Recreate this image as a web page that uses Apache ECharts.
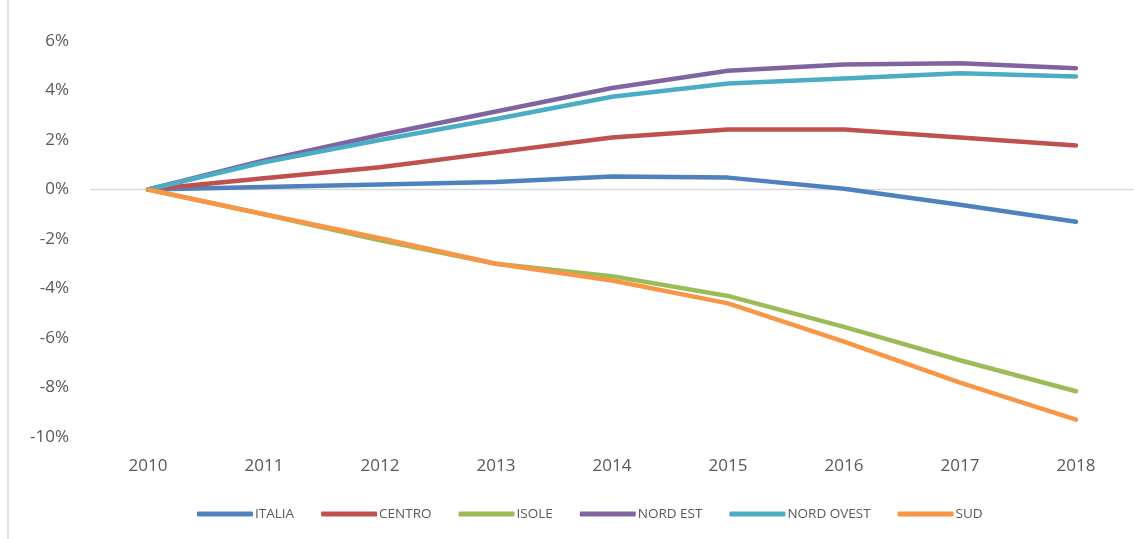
<!DOCTYPE html>
<html><head><meta charset="utf-8">
<script src="https://cdn.jsdelivr.net/npm/echarts@6/dist/echarts.min.js"></script>
<style>html,body{margin:0;padding:0;background:#fff}#c{width:1148px;height:539px}</style>
</head><body><div id="c"></div>
<script>
const years = ['2010','2011','2012','2013','2014','2015','2016','2017','2018'];
const italia = [0, 0.1, 0.2, 0.3, 0.53, 0.48, 0.03, -0.62, -1.3];
const centro = [0, 0.45, 0.9, 1.5, 2.1, 2.42, 2.42, 2.1, 1.78];
const isole = [0, -1.0, -2.05, -3.0, -3.5, -4.3, -5.55, -6.9, -8.15];
const nordEst = [0, 1.17, 2.2, 3.15, 4.1, 4.8, 5.05, 5.1, 4.9];
const nordOvest = [0, 1.1, 2.0, 2.85, 3.75, 4.28, 4.48, 4.7, 4.57];
const sud = [0, -1.0, -1.97, -3.0, -3.68, -4.6, -6.15, -7.8, -9.3];
const seriesNames = ['ITALIA','CENTRO','ISOLE','NORD EST','NORD OVEST','SUD'];
const seriesData = [italia, centro, isole, nordEst, nordOvest, sud];
const colors = ['#4F81BD','#C0504D','#9BBB59','#8064A2','#4BACC6','#F79646'];

const chart = echarts.init(document.getElementById('c'), null, {renderer:'canvas'});
const series = seriesNames.map((n,i)=>({
  name:n, type:'line', data:seriesData[i], symbol:'none', smooth:false,
  lineStyle:{width:4.5, color:colors[i], cap:'round', join:'round'},
  itemStyle:{color:colors[i]}, z:10+i
}));
series.unshift({
  name:'zero', type:'line', data:[], silent:true,
  markLine:{symbol:'none', silent:true, label:{show:false},
    lineStyle:{color:'#D9D9D9', width:1.3, type:'solid'},
    data:[{yAxis:0}]}, z:1
});
chart.setOption({
  animation:false,
  color:colors,
  graphic:[{type:'line', shape:{x1:8,y1:0,x2:8,y2:539}, style:{stroke:'#D9D9D9', lineWidth:1.5}}],
  grid:{left:90, right:14, top:41, bottom:102},
  legend:{data:seriesNames, left:192, top:502, icon:'roundRect', itemWidth:56, itemHeight:5,
    itemGap:27, textStyle:{fontFamily:'Open Sans', fontSize:13.5, color:'#595959', padding:[0,0,0,-3]}},
  xAxis:{type:'category', data:years, boundaryGap:true,
    axisLine:{show:false}, axisTick:{show:false},
    axisLabel:{fontFamily:'Open Sans', fontSize:17, color:'#595959', margin:21}},
  yAxis:{type:'value', min:-10, max:6, interval:2,
    splitLine:{show:false}, axisLine:{show:false}, axisTick:{show:false},
    axisLabel:{formatter:v=>v+'%', fontFamily:'Open Sans', fontSize:17, color:'#595959', margin:21}},
  series:series
});
</script></body></html>
